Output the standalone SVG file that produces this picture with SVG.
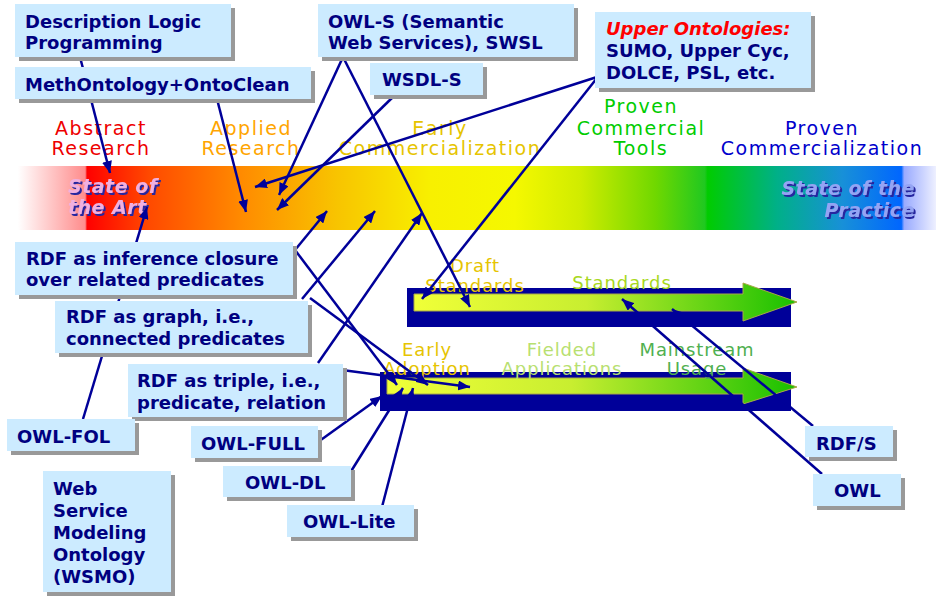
<svg xmlns="http://www.w3.org/2000/svg" width="936" height="596" viewBox="0 0 936 596">
<defs>
<linearGradient id="band" x1="0" y1="0" x2="936" y2="0" gradientUnits="userSpaceOnUse">
<stop offset="0.019" stop-color="#FFFFFF"/>
<stop offset="0.091" stop-color="#FF8C8C"/>
<stop offset="0.093" stop-color="#FF0000"/>
<stop offset="0.16" stop-color="#FF4A00"/>
<stop offset="0.26" stop-color="#FF8C00"/>
<stop offset="0.36" stop-color="#F8C400"/>
<stop offset="0.46" stop-color="#F8F000"/>
<stop offset="0.55" stop-color="#F5F800"/>
<stop offset="0.62" stop-color="#D0EC00"/>
<stop offset="0.70" stop-color="#70D800"/>
<stop offset="0.753" stop-color="#20C820"/>
<stop offset="0.756" stop-color="#00CC00"/>
<stop offset="0.83" stop-color="#00B088"/>
<stop offset="0.90" stop-color="#1890D8"/>
<stop offset="0.963" stop-color="#0066FF"/>
<stop offset="0.966" stop-color="#99AAFF"/>
<stop offset="1" stop-color="#EEF0FF"/>
</linearGradient>
<linearGradient id="g1" x1="414" y1="0" x2="797" y2="0" gradientUnits="userSpaceOnUse">
<stop offset="0" stop-color="#F0FF38"/>
<stop offset="0.45" stop-color="#C8EE30"/>
<stop offset="1" stop-color="#18C000"/>
</linearGradient>
<linearGradient id="g2" x1="387" y1="0" x2="797" y2="0" gradientUnits="userSpaceOnUse">
<stop offset="0" stop-color="#F0FF38"/>
<stop offset="0.45" stop-color="#C8EE30"/>
<stop offset="1" stop-color="#18C000"/>
</linearGradient>
<filter id="ts" x="-10%" y="-20%" width="120%" height="140%">
<feOffset in="SourceAlpha" dx="1.5" dy="1.5" result="o"/>
<feFlood flood-color="#2828A0"/>
<feComposite in2="o" operator="in" result="s"/>
<feMerge><feMergeNode in="s"/><feMergeNode in="SourceGraphic"/></feMerge>
</filter>
<marker id="ah" markerUnits="userSpaceOnUse" markerWidth="13" markerHeight="10" refX="12" refY="5" orient="auto">
<path d="M0,0 L12,5 L0,10 z" fill="#000099"/>
</marker>
</defs>
<style>
.sh{fill:#999999}
.bx{fill:#CCEBFF}
.t{font-family:"DejaVu Sans",Verdana,sans-serif;font-weight:bold;font-size:18px;fill:#000080}
.lb{font-family:"DejaVu Sans",Verdana,sans-serif;font-size:19px;letter-spacing:1.5px;text-anchor:middle}
.bl{font-family:"DejaVu Sans",Verdana,sans-serif;font-size:18px;letter-spacing:0.9px;text-anchor:middle}
.st{font-family:"DejaVu Sans",Verdana,sans-serif;font-size:19px;letter-spacing:0.5px;font-weight:bold;font-style:italic;filter:url(#ts)}
.c line{stroke:#000099;stroke-width:2.5;marker-end:url(#ah)}
</style>

<rect x="0" y="166" width="936" height="64" fill="url(#band)"/>

<g id="band-labels">
<text class="lb" fill="#EE0000"><tspan x="101" y="135">Abstract</tspan><tspan x="101" y="155">Research</tspan></text>
<text class="lb" fill="#FFA500"><tspan x="251" y="135">Applied</tspan><tspan x="251" y="155">Research</tspan></text>
<text class="lb" fill="#E6C400"><tspan x="440" y="135">Early</tspan><tspan x="440" y="155">Commercialization</tspan></text>
<text class="lb" fill="#00CC00"><tspan x="641" y="113">Proven</tspan><tspan x="641" y="135">Commercial</tspan><tspan x="641" y="155">Tools</tspan></text>
<text class="lb" fill="#0000CC"><tspan x="822" y="135">Proven</tspan><tspan x="822" y="155">Commercialization</tspan></text>
</g>

<g id="state-art">
<text class="st" fill="#F0B0E0"><tspan x="68" y="193">State of</tspan><tspan x="68" y="214">the Art</tspan></text>
</g>
<g id="state-practice">
<text class="st" fill="#94A4F4" text-anchor="end"><tspan x="915" y="195">State of the</tspan><tspan x="915" y="217">Practice</tspan></text>
</g>

<g id="bar-standards">
<rect x="407" y="288" width="384" height="39" fill="#000099"/>
<polygon points="414,294 743,294 743,283 797,302 743,321 743,311 414,311" fill="url(#g1)" stroke="#A8A848" stroke-width="1"/>
<text class="bl" fill="#E6C400"><tspan x="475" y="272">Draft</tspan><tspan x="475" y="292">Standards</tspan></text>
<text class="bl" fill="#A8D820" x="622" y="289">Standards</text>
</g>
<g id="bar-usage">
<rect x="380" y="372" width="411" height="39" fill="#000099"/>
<polygon points="387,378 743,378 743,368 797,387 743,404 743,394 387,394" fill="url(#g2)" stroke="#A8A848" stroke-width="1"/>
<text class="bl" fill="#E6C400"><tspan x="427" y="356">Early</tspan><tspan x="427" y="375">Adoption</tspan></text>
<text class="bl" fill="#B8E070"><tspan x="562" y="356">Fielded</tspan><tspan x="562" y="375">Applications</tspan></text>
<text class="bl" fill="#50B050"><tspan x="697" y="356">Mainstream</tspan><tspan x="697" y="375">Usage</tspan></text>
</g>

<g id="connectors" class="c">
<line x1="80" y1="57" x2="110" y2="173"/>
<line x1="217" y1="99" x2="246" y2="212"/>
<line x1="343" y1="57" x2="279" y2="195"/>
<line x1="343" y1="57" x2="470" y2="307"/>
<line x1="395" y1="95" x2="277" y2="210"/>
<line x1="597" y1="77" x2="255" y2="187"/>
<line x1="597" y1="78" x2="422" y2="299"/>
<line x1="295" y1="250" x2="327" y2="211"/>
<line x1="302" y1="299" x2="375" y2="211"/>
<line x1="318" y1="363" x2="422" y2="213"/>
<line x1="83" y1="419" x2="147" y2="207"/>
<line x1="295" y1="250" x2="397" y2="385"/>
<line x1="310" y1="298" x2="428" y2="385"/>
<line x1="342" y1="370" x2="470" y2="387"/>
<line x1="318" y1="442" x2="382" y2="396"/>
<line x1="350" y1="473" x2="403" y2="388"/>
<line x1="382" y1="507" x2="413" y2="388"/>
<line x1="813" y1="426" x2="672" y2="309"/>
<line x1="822" y1="474" x2="622" y2="299"/>
</g>

<g id="n-dlp"><rect class="sh" x="19" y="8" width="216" height="53"/><rect class="bx" x="15" y="4" width="216" height="53"/><text class="t" x="25" y="28">Description Logic</text><text class="t" x="25" y="49">Programming</text></g>
<g id="n-meth"><rect class="sh" x="19" y="71" width="296" height="32"/><rect class="bx" x="15" y="67" width="296" height="32"/><text class="t" x="25" y="91">MethOntology+OntoClean</text></g>
<g id="n-owls"><rect class="sh" x="322" y="8" width="256" height="53"/><rect class="bx" x="318" y="4" width="256" height="53"/><text class="t" x="328" y="28">OWL-S (Semantic</text><text class="t" x="328" y="49">Web Services), SWSL</text></g>
<g id="n-wsdls"><rect class="sh" x="374" y="67" width="113" height="32"/><rect class="bx" x="370" y="63" width="113" height="32"/><text class="t" x="382" y="86">WSDL-S</text></g>
<g id="n-upper"><rect class="sh" x="599" y="16" width="216" height="76"/><rect class="bx" x="595" y="12" width="216" height="76"/><text class="t" x="606" y="35" style="fill:#FF0000;font-style:italic">Upper Ontologies:</text><text class="t" x="606" y="57">SUMO, Upper Cyc,</text><text class="t" x="606" y="79">DOLCE, PSL, etc.</text></g>
<g id="n-inference"><rect class="sh" x="19" y="246" width="278" height="53"/><rect class="bx" x="15" y="242" width="278" height="53"/><text class="t" x="26" y="265">RDF as inference closure</text><text class="t" x="26" y="286">over related predicates</text></g>
<g id="n-graph"><rect class="sh" x="59" y="305" width="253" height="52"/><rect class="bx" x="55" y="301" width="253" height="52"/><text class="t" x="66" y="323">RDF as graph, i.e.,</text><text class="t" x="66" y="345">connected predicates</text></g>
<g id="n-triple"><rect class="sh" x="132" y="368" width="215" height="53"/><rect class="bx" x="128" y="364" width="215" height="53"/><text class="t" x="137" y="387">RDF as triple, i.e.,</text><text class="t" x="137" y="409">predicate, relation</text></g>
<g id="n-owlfol"><rect class="sh" x="11" y="423" width="128" height="32"/><rect class="bx" x="7" y="419" width="128" height="32"/><text class="t" x="17" y="443">OWL-FOL</text></g>
<g id="n-owlfull"><rect class="sh" x="195" y="430" width="127" height="32"/><rect class="bx" x="191" y="426" width="127" height="32"/><text class="t" x="201" y="450">OWL-FULL</text></g>
<g id="n-owldl"><rect class="sh" x="227" y="470" width="128" height="31"/><rect class="bx" x="223" y="466" width="128" height="31"/><text class="t" x="245" y="489">OWL-DL</text></g>
<g id="n-owllite"><rect class="sh" x="291" y="509" width="127" height="32"/><rect class="bx" x="287" y="505" width="127" height="32"/><text class="t" x="303" y="528">OWL-Lite</text></g>
<g id="n-wsmo"><rect class="sh" x="47" y="475" width="128" height="121"/><rect class="bx" x="43" y="471" width="128" height="121"/><text class="t" x="53" y="495">Web</text><text class="t" x="53" y="517">Service</text><text class="t" x="53" y="539">Modeling</text><text class="t" x="53" y="561">Ontology</text><text class="t" x="53" y="583">(WSMO)</text></g>
<g id="n-rdfs"><rect class="sh" x="809" y="430" width="88" height="31"/><rect class="bx" x="805" y="426" width="88" height="31"/><text class="t" x="816" y="450">RDF/S</text></g>
<g id="n-owl"><rect class="sh" x="817" y="478" width="88" height="32"/><rect class="bx" x="813" y="474" width="88" height="32"/><text class="t" x="834" y="497">OWL</text></g>
</svg>
